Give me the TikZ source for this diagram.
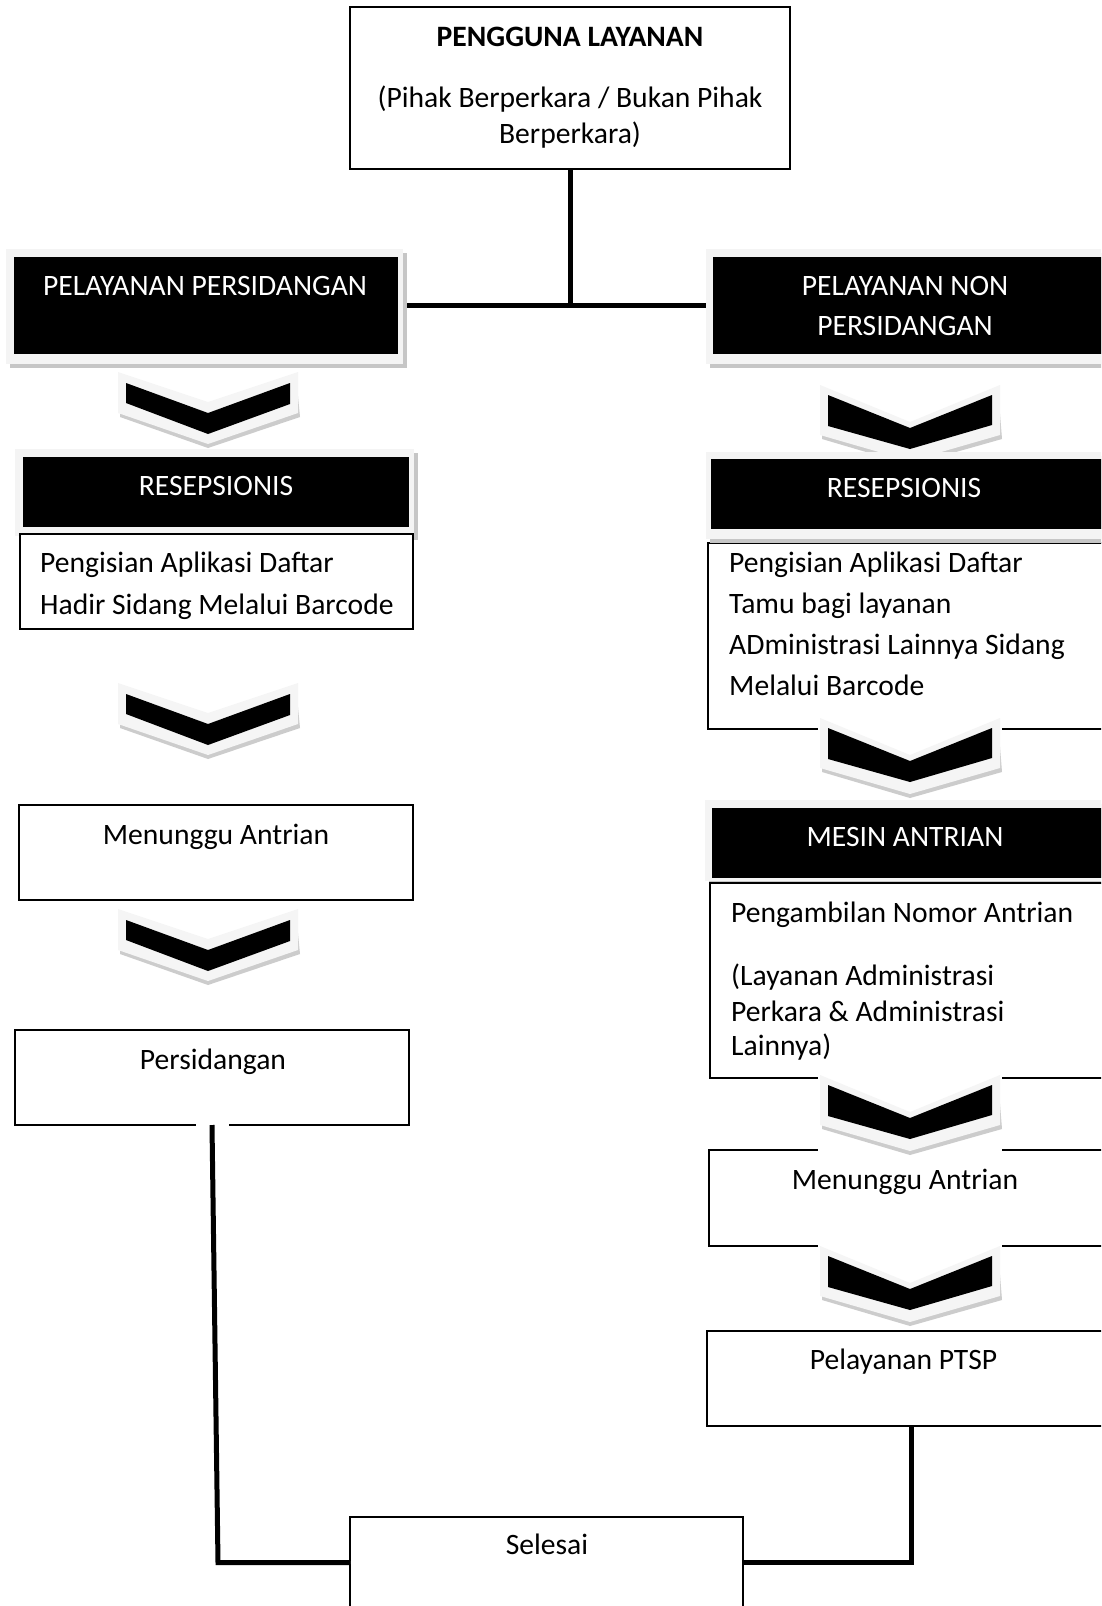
\documentclass[tikz,border=0pt]{standalone}
\usepackage{fontspec}
\setmainfont{Carlito}
\pgfdeclarelayer{back}
\pgfsetlayers{back,main}
\newcommand\halobox[4]{%
  \fill[haloshade] (#1+4,#2+4) rectangle (#3+4,#4+4);
  \fill[halolight] (#1,#2) rectangle (#3,#4);}
\tikzset{
  wbox/.style={draw=black, line width=1.6pt, fill=white, rectangle, inner sep=0pt, outer sep=0pt},
  blackbox/.style={fill=black, rectangle, inner sep=0pt, outer sep=0pt},
  halolight/.style={fill=gray!9},
  haloshade/.style={fill=gray!45},
  txt/.style={font=\fontsize{29.6}{35}\selectfont, inner sep=0pt, anchor=base},
  ltxt/.style={txt, anchor=base west},
  wtxt/.style={txt, text=white},
  conn/.style={line width=5pt, black},
  connsh/.style={line width=3pt, gray!45},
  pics/chevL/.style={code={
    \fill[white] (-92,-3) rectangle (92,77);
    \fill[gray!40] (-88,4) -- (0,34) -- (88,4) -- (92,45) -- (0,76) -- (-88,45) -- cycle;
    \fill[gray!8] (-90,0) -- (0,30) -- (90,0) -- (90,41) -- (0,72) -- (-90,41) -- cycle;
    \fill[black] (-82,11) -- (0,41) -- (82,11) -- (82,32) -- (0,62) -- (-82,31) -- cycle;
  }},
  pics/chevR/.style={code={
    \fill[white] (-92,-3) rectangle (92,78);
    \fill[gray!40] (-88,4) -- (0,41) -- (88,4) -- (92,54) -- (0,80) -- (-88,54) -- cycle;
    \fill[gray!8] (-90,0) -- (0,37) -- (90,0) -- (90,50) -- (0,76) -- (-90,50) -- cycle;
    \fill[black] (-82,10) -- (0,43) -- (82,10) -- (82,40) -- (0,64) -- (-82,41) -- cycle;
  }},
}
\begin{document}
\begin{tikzpicture}[x=1pt,y=-1pt]
\useasboundingbox (0,0) rectangle (1101,1606);
\clip (0,0) rectangle (1101,1606);
\begin{pgfonlayer}{back}
\fill[white] (0,0) rectangle (1101,1606);
\end{pgfonlayer}

% top box
\node[wbox, minimum width=440, minimum height=162] (top) at (570,88) {};

% first level black boxes
\halobox{6}{249}{403}{364}
\node[blackbox, minimum width=384, minimum height=97] (pp) at (206,305.5) {};
\halobox{706}{249}{1115}{364}
\node[blackbox, minimum width=397, minimum height=97] (pnp) at (911.5,305.5) {};

% right: box 1, chevron, resepsionis
\node[wbox, minimum width=404, minimum height=186] (rbox1) at (910,636) {};
\pic at (910,385) {chevR};
\halobox{706}{452}{1115}{539}
\node[blackbox, minimum width=399, minimum height=70] (rr) at (910.5,494) {};

% left: resepsionis, box 1
\halobox{15}{449}{414}{536}
\node[blackbox, minimum width=386, minimum height=70] (lr) at (216,492) {};
\node[wbox, minimum width=393, minimum height=95] (lbox1) at (216.5,581.5) {};

% right: mesin antrian, box 2
\halobox{705}{800}{1115}{881}
\node[blackbox, minimum width=398, minimum height=70] (mesin) at (911,843) {};
\node[wbox, minimum width=402, minimum height=195] (rbox2) at (911,980.5) {};

% other boxes
\node[wbox, minimum width=394, minimum height=95] (lbox2) at (216,852.5) {};
\node[wbox, minimum width=394, minimum height=95] (lbox3) at (212,1077.5) {};
\node[wbox, minimum width=403, minimum height=96] (rbox3) at (910.5,1198) {};
\node[wbox, minimum width=405, minimum height=95] (rbox4) at (909.5,1378.5) {};
\node[wbox, minimum width=393, minimum height=91] (selesai) at (546.5,1562.5) {};

% chevrons
\pic at (208,372) {chevL};
\pic at (208,683) {chevL};
\pic at (208,909) {chevL};
\pic at (910,718) {chevR};
\pic at (910,1075) {chevR};
\pic at (910,1246) {chevR};

% connectors
\begin{pgfonlayer}{back}
\coordinate (junc) at (top.south |- pp.east);
\draw[connsh, shift={(3,3)}] (pp.east) -- (pnp.west);
\draw[connsh, shift={(-4,0)}] (top.south) -- (junc);
\draw[conn] (top.south) -- (junc);
\draw[conn] (pp.east) -- (pnp.west);
\end{pgfonlayer}
\fill[white] (196,1121) rectangle (229,1129);
\coordinate (lcorner) at (218,1562.5);
\coordinate (rcorner) at (911,1562.5);
\draw[connsh, shift={(3,3)}] (lbox3.south) -- (lcorner) -- (selesai.west);
\draw[conn] (lbox3.south) -- (lcorner) -- (selesai.west);
\draw[connsh, shift={(3,3)}] (rcorner |- rbox4.south) -- (rcorner) -- (selesai.east);
\draw[conn] (rcorner |- rbox4.south) -- (rcorner) -- (selesai.east);

% texts
\node[txt, font=\fontsize{29.6}{35}\selectfont\bfseries] (t0a) at (570,46) {PENGGUNA LAYANAN};
\node[txt] (t0b) at (570,107) {(Pihak Berperkara / Bukan Pihak};
\node[txt] (t0c) at (570,143) {Berperkara)};
\node[wtxt] (tpp) at (205,295) {PELAYANAN PERSIDANGAN};
\node[wtxt] (tpnpa) at (905,295) {PELAYANAN NON};
\node[wtxt] (tpnpb) at (905,335) {PERSIDANGAN};
\node[wtxt] (tlr) at (216,495) {RESEPSIONIS};
\node[wtxt] (trr) at (904,497) {RESEPSIONIS};
\node[ltxt] (tl1a) at (40,572) {Pengisian Aplikasi Daftar};
\node[ltxt] (tl1b) at (40,614) {Hadir Sidang Melalui Barcode};
\node[ltxt] (tr1a) at (729,572) {Pengisian Aplikasi Daftar};
\node[ltxt] (tr1b) at (729,613) {Tamu bagi layanan};
\node[ltxt] (tr1c) at (729,654) {ADministrasi Lainnya Sidang};
\node[ltxt] (tr1d) at (729,695) {Melalui Barcode};
\node[wtxt] (tmesin) at (905,846) {MESIN ANTRIAN};
\node[ltxt] (tr2a) at (731,922) {Pengambilan Nomor Antrian};
\node[ltxt] (tr2b) at (731,985) {(Layanan Administrasi};
\node[ltxt] (tr2c) at (731,1021) {Perkara \& Administrasi};
\node[ltxt] (tr2d) at (731,1055) {Lainnya)};
\node[txt] (tl2) at (216,844) {Menunggu Antrian};
\node[txt] (tl3) at (213,1069) {Persidangan};
\node[txt] (tr3) at (905,1189) {Menunggu Antrian};
\node[txt] (tr4) at (903.5,1369) {Pelayanan PTSP};
\node[txt] (tsel) at (547,1554) {Selesai};
\end{tikzpicture}
\end{document}
